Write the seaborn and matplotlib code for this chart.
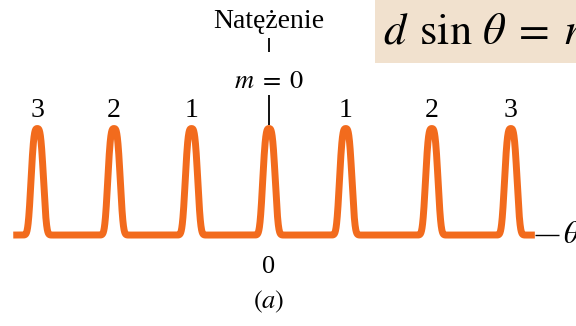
import numpy as np
import pandas as pd
import matplotlib
matplotlib.use("Agg")
import matplotlib.pyplot as plt
import seaborn as sns
from matplotlib.patches import Rectangle

# maxima positions (in units of the fringe spacing) and their order labels
peak_pos = [-2.99, -2.0, -1.0, 0.0, 0.99, 2.10, 3.12]
peak_order = ["3", "2", "1", "0", "1", "2", "3"]
theta_start, theta_end = -3.30, 3.43
peak_width = 0.092

sns.set_theme(style="white")
plt.rcParams["font.family"] = ["Liberation Serif", "DejaVu Serif"]
plt.rcParams["mathtext.fontset"] = "stix"
plt.rcParams["text.color"] = "black"

theta = np.linspace(theta_start, theta_end, 4000)
intens = np.zeros_like(theta)
for p in peak_pos:
    intens += np.exp(-np.abs((theta - p) / peak_width) ** 3.2)
df = pd.DataFrame({"theta": theta, "I": intens})

fig = plt.figure(figsize=(5.76, 3.26), dpi=100)
ax = fig.add_axes([0, 0, 1, 1])
sns.lineplot(data=df, x="theta", y="I", ax=ax, color="#F26B1D", lw=5.0,
             sort=False, estimator=None, solid_capstyle="butt", zorder=3)

ax.set_xlim(-3.471, 3.961)
ax.set_ylim(-0.854, 2.207)
ax.axis("off")

# axis continuation and theta label
ax.hlines(0, theta_end, 3.74, color="black", lw=1.0, zorder=2)
ax.text(3.79, 0, r"$\theta$", fontsize=22, va="center", ha="left")

# order labels above the peaks
for p, lab in zip(peak_pos, peak_order):
    if lab != "0":
        ax.text(p, 1.108, lab, fontsize=20, ha="center", va="baseline")

c = peak_pos[3]
ax.vlines(c, 1.033, 1.315, color="black", lw=1.3)
ax.text(c, 1.38, r"$m\;=\;0$", fontsize=19, ha="center", va="baseline")
ax.vlines(c, 1.718, 1.85, color="black", lw=1.3)
ax.text(c, 1.944, "Natężenie", fontsize=20, ha="center", va="baseline")
ax.text(c, -0.357, "0", fontsize=19, ha="center", va="baseline")
ax.text(c, -0.685, r"$(a)$", fontsize=19, ha="center", va="baseline")

# formula box, running off the top right corner
fig.patches.append(Rectangle((375 / 576, 1 - 63 / 326), 1 - 375 / 576, 63 / 326,
                             transform=fig.transFigure, fc="#F1E1CE", ec="none", zorder=0))
fig.text(383 / 576, 1 - 44 / 326, r"$d\;\,\sin\,\theta\;=\;n$", fontsize=32,
         ha="left", va="baseline")

fig.savefig("out.png", dpi=100)
